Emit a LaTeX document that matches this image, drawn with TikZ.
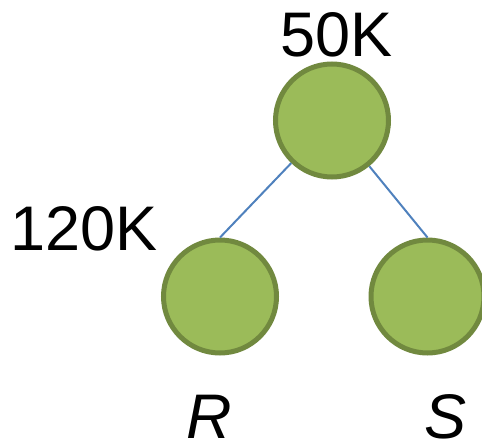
\documentclass[tikz,border=0pt]{standalone}
\usepackage{fontspec}
\setmainfont{Liberation Sans}
\definecolor{nodefill}{HTML}{9BBB59}
\definecolor{nodeedge}{HTML}{71893F}
\definecolor{edgeblue}{HTML}{4F81BD}
\begin{document}
\begin{tikzpicture}[x=1pt,y=-1pt,
  treenode/.style={circle,draw=nodeedge,fill=nodefill,line width=5pt,
    minimum size=113pt,inner sep=0pt},
  treeedge/.style={draw=edgeblue,line width=2pt},
  bigtext/.style={anchor=base,inner sep=0pt,font=\fontsize{63}{72}\selectfont}]
\useasboundingbox (0,0) rectangle (482,444);
% nodes of the tree
\node[treenode] (top) at (332,120.5) {};
\node[treenode] (left) at (220,296.5) {};
\node[treenode] (right) at (427.5,296.5) {};
% edges
\draw[treeedge] (top) -- (left.north);
\draw[treeedge] (top) -- (right.north);
% labels
\node[bigtext] (ltop) at (336.5,57) {50K};
\node[bigtext] (lleft) at (84,250) {120K};
\node[bigtext] (lr) at (209,438.5) {\itshape R};
\node[bigtext] (ls) at (446,438.5) {\itshape S};
\end{tikzpicture}
\end{document}
